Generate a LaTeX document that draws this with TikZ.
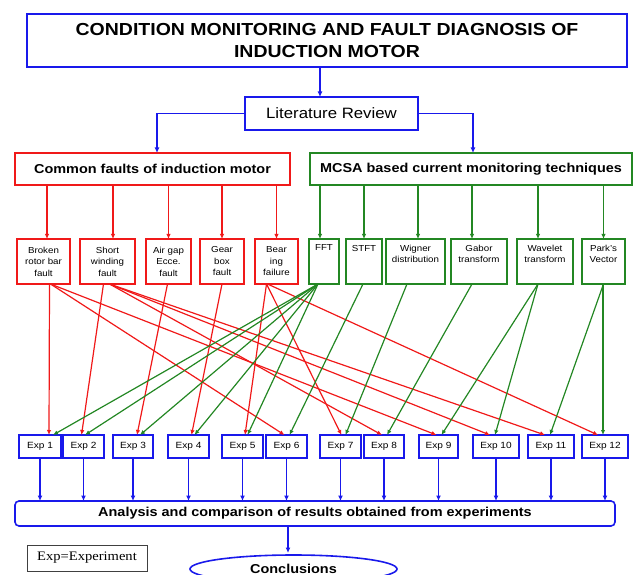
\documentclass[tikz,border=0pt]{standalone}
\usepackage{fontspec}
\setmainfont{Liberation Sans}[FakeStretch=1.12]
\newfontfamily\tmsfont{Liberation Serif}[FakeStretch=1.12]
\usetikzlibrary{arrows.meta,shapes.geometric}
\definecolor{bl}{RGB}{25,25,235}
\definecolor{rd}{RGB}{240,25,25}
\definecolor{gr}{RGB}{35,135,35}
\begin{document}
\begin{tikzpicture}[x=1pt,y=-1pt,
  every node/.style={inner sep=0pt, outer sep=0pt},
  bline/.style={draw=bl, line width=1.6pt, -{Latex[length=5.5pt,width=5pt]}},
  rline/.style={draw=rd, line width=1.2pt, -{Latex[length=5pt,width=4.5pt]}},
  gline/.style={draw=gr, line width=1.2pt, -{Latex[length=5pt,width=4.5pt]}},
  rbox/.style={draw=rd, line width=1.6pt, minimum height=45pt},
  gbox/.style={draw=gr, line width=1.6pt, minimum height=45pt},
  ebox/.style={draw=bl, line width=1.6pt, minimum height=23pt, font=\fontsize{9}{10}\selectfont},
  smalltxt/.style={font=\fontsize{8.7}{11.5}\selectfont, align=center},
  headtxt/.style={font=\fontsize{12.9}{15}\selectfont\bfseries},
]
\useasboundingbox (0,0) rectangle (638,575);

% top
\node[draw=bl, line width=2.4pt, minimum width=600pt, minimum height=53pt, align=center,
      font=\fontsize{17.4}{22}\selectfont\bfseries] (title) at (327,40.5)
      {CONDITION MONITORING AND FAULT DIAGNOSIS OF\\INDUCTION MOTOR};
\node[draw=bl, line width=1.8pt, minimum width=173pt, minimum height=33pt,
      font=\fontsize{15}{18}\selectfont] (lit) at (331.5,113.5) {Literature Review};
\draw[bline, line width=2pt] ([xshift=-7pt]title.south) -- ++(0,30);

\node[draw=rd, line width=1.8pt, minimum width=275pt, minimum height=32pt, headtxt] (rh) at (152.5,169)
      {Common faults of induction motor};
\node[draw=gr, line width=1.8pt, minimum width=322pt, minimum height=32pt, headtxt] (gh) at (471,169)
      {MCSA based current monitoring techniques};
\draw[bline, line width=1.8pt] (lit.west) -| ([xshift=4.5pt]rh.north);
\draw[bline, line width=1.8pt] (lit.east) -| ([xshift=2pt]gh.north);

% fault boxes
\node[rbox, minimum width=53pt, smalltxt] (broken) at (43.5,261.5) {Broken\\rotor bar\\fault};
\node[rbox, minimum width=55pt, smalltxt] (short) at (107.5,261.5) {Short\\winding\\fault};
\node[rbox, minimum width=45pt, smalltxt] (air) at (168.5,261.5) {Air gap\\Ecce.\\fault};
\node[rbox, minimum width=44pt, smalltxt] (gear) at (222,261.5) {Gear\\box\\fault};
\node[rbox, minimum width=43pt, smalltxt] (bear) at (276.5,261.5) {Bear\\ing\\failure};

% technique boxes
\node[gbox, minimum width=30pt] (fft) at (324,261.5) {};
\node[gbox, minimum width=36pt] (stft) at (364,261.5) {};
\node[gbox, minimum width=59pt] (wig) at (415.5,261.5) {};
\node[gbox, minimum width=56pt] (gab) at (479,261.5) {};
\node[gbox, minimum width=56pt] (wav) at (545,261.5) {};
\node[gbox, minimum width=43pt] (park) at (603.5,261.5) {};
\node[smalltxt, anchor=north] (fftt) at ([yshift=-6pt]fft.north) {FFT};
\node[smalltxt, anchor=north] (stftt) at ([yshift=-6pt]stft.north) {STFT};
\node[smalltxt, anchor=north] (wigt) at ([yshift=-6pt]wig.north) {Wigner\\distribution};
\node[smalltxt, anchor=north] (gabt) at ([yshift=-6pt]gab.north) {Gabor\\transform};
\node[smalltxt, anchor=north] (wavt) at ([yshift=-6pt]wav.north) {Wavelet\\transform};
\node[smalltxt, anchor=north] (parkt) at ([yshift=-6pt]park.north) {Park's\\Vector};

% header -> boxes
\draw[rline] (broken.north) ++(3.5,-54) -- ++(0,54);
\draw[rline] (short.north) ++(5.5,-54) -- ++(0,54);
\draw[rline] (air.north) ++(0,-54) -- ++(0,54);
\draw[rline] (gear.north) ++(0,-54) -- ++(0,54);
\draw[rline] (bear.north) ++(0,-54) -- ++(0,54);
\draw[gline] (fft.north) ++(-4,-54) -- ++(0,54);
\draw[gline] (stft.north) ++(0,-54) -- ++(0,54);
\draw[gline] (wig.north) ++(2.5,-54) -- ++(0,54);
\draw[gline] (gab.north) ++(-7,-54) -- ++(0,54);
\draw[gline] (wav.north) ++(-7,-54) -- ++(0,54);
\draw[gline] (park.north) ++(0,-54) -- ++(0,54);

% experiments
\node[ebox, minimum width=42pt] (e1) at (40,446.5) {Exp 1};
\node[ebox, minimum width=41pt] (e2) at (83.5,446.5) {Exp 2};
\node[ebox, minimum width=40pt] (e3) at (133,446.5) {Exp 3};
\node[ebox, minimum width=41pt] (e4) at (188.5,446.5) {Exp 4};
\node[ebox, minimum width=41pt] (e5) at (242.5,446.5) {Exp 5};
\node[ebox, minimum width=41pt] (e6) at (286.5,446.5) {Exp 6};
\node[ebox, minimum width=41pt] (e7) at (340.5,446.5) {Exp 7};
\node[ebox, minimum width=40pt] (e8) at (384,446.5) {Exp 8};
\node[ebox, minimum width=39pt] (e9) at (438.5,446.5) {Exp 9};
\node[ebox, minimum width=46pt] (e10) at (496,446.5) {Exp 10};
\node[ebox, minimum width=46pt] (e11) at (551,446.5) {Exp 11};
\node[ebox, minimum width=46pt] (e12) at (605,446.5) {Exp 12};

% red fault -> experiment
\draw[rline] ([xshift=6pt]broken.south) -- ([xshift=9pt]e1.north);
\draw[rline] ([xshift=7pt]broken.south) -- ([xshift=-2pt]e6.north);
\draw[rline] ([xshift=7pt]broken.south) -- ([xshift=-2pt]e9.north);
\draw[rline] ([xshift=-4pt]short.south) -- ([xshift=-2pt]e2.north);
\draw[rline] ([xshift=2pt]short.south) -- ([xshift=-2pt]e8.north);
\draw[rline] ([xshift=2pt]short.south) -- ([xshift=-6pt]e10.north);
\draw[rline] ([xshift=2pt]short.south) -- ([xshift=-6pt]e11.north);
\draw[rline] ([xshift=-1pt]air.south) -- ([xshift=4pt]e3.north);
\draw[rline] (gear.south) -- ([xshift=3pt]e4.north);
\draw[rline] ([xshift=-10pt]bear.south) -- ([xshift=2.5pt]e5.north);
\draw[rline] ([xshift=-10pt]bear.south) -- ([xshift=1pt]e7.north);
\draw[rline] ([xshift=-9pt]bear.south) -- ([xshift=-7pt]e12.north);

% green technique -> experiment
\draw[gline] ([xshift=-6pt]fft.south) -- ([xshift=13pt]e1.north);
\draw[gline] ([xshift=-6pt]fft.south) -- ([xshift=1.5pt]e2.north);
\draw[gline] ([xshift=-6pt]fft.south) -- ([xshift=7pt]e3.north);
\draw[gline] ([xshift=-6pt]fft.south) -- ([xshift=6pt]e4.north);
\draw[gline] ([xshift=-6pt]fft.south) -- ([xshift=5pt]e5.north);
\draw[gline] ([xshift=-1pt]stft.south) -- ([xshift=3pt]e6.north);
\draw[gline] ([xshift=-8.5pt]wig.south) -- ([xshift=5pt]e7.north);
\draw[gline] ([xshift=-7pt]gab.south) -- ([xshift=3pt]e8.north);
\draw[gline] ([xshift=-7pt]wav.south) -- ([xshift=3pt]e9.north);
\draw[gline] ([xshift=-7pt]wav.south) -- ([xshift=-1pt]e10.north);
\draw[gline] (park.south) -- ([xshift=-1pt]e11.north);
\draw[gline] ([xshift=-0.5pt]park.south) -- ([xshift=-2pt]e12.north);

% analysis
\node[draw=bl, line width=1.6pt, rounded corners=4pt, minimum width=600pt, minimum height=25pt, headtxt] (ana)
      at (315,513.5) {Analysis and comparison of results obtained from experiments};
\foreach \i in {1,...,12} {
  \draw[bline] (e\i.south) -- (e\i.south |- ana.north);
}
\node[draw=bl, line width=1.6pt, ellipse, minimum width=207pt, minimum height=28pt, headtxt] (conc)
      at (293.5,569) {Conclusions};
\draw[bline, line width=2.4pt] ([xshift=-27pt]ana.south) -- ++(0,27);

\node[draw=black!75, line width=1pt, minimum width=120pt, minimum height=26pt,
      font=\tmsfont\fontsize{13}{15}\selectfont] (leg) at (87,558) {Exp=Experiment};
\end{tikzpicture}
\end{document}
